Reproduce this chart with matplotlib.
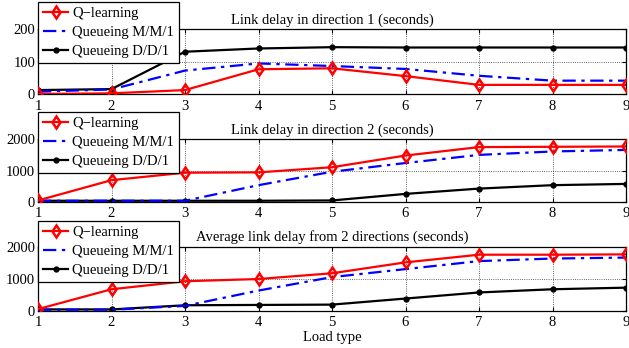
import matplotlib
matplotlib.use("Agg")
import matplotlib.pyplot as plt

plt.rcParams['font.family'] = ['Liberation Serif', 'DejaVu Serif']
plt.rcParams['font.size'] = 10

load = [1, 2, 3, 4, 5, 6, 7, 8, 9]

# Panel 1: Link delay in direction 1 (seconds)
q1 = [1, 3, 13, 77, 80, 56, 29, 29, 29]
mm1_1 = [8, 15, 73, 95, 87, 78, 57, 42, 42]
dd1_1 = [13, 16, 131, 141, 145, 144, 144, 144, 144]

# Panel 2: Link delay in direction 2 (seconds)
q2 = [40, 690, 930, 940, 1105, 1480, 1750, 1760, 1770]
mm1_2 = [30, 30, 30, 530, 960, 1240, 1500, 1610, 1660]
dd1_2 = [30, 30, 30, 30, 40, 250, 420, 530, 570]

# Panel 3: Average link delay from 2 directions (seconds)
q3 = [50, 670, 920, 990, 1170, 1510, 1750, 1750, 1760]
mm1_3 = [30, 30, 150, 630, 1050, 1300, 1550, 1630, 1660]
dd1_3 = [40, 40, 170, 180, 190, 380, 570, 670, 720]

titles = ["Link delay in direction 1 (seconds)",
          "Link delay in direction 2 (seconds)",
          "Average link delay from 2 directions (seconds)"]
labels = ["Q\u2212learning", "Queueing M/M/1", "Queueing D/D/1"]
yticks = [[0, 100, 200], [0, 1000, 2000], [0, 1000, 2000]]
xlabel = "Load type"

W, H = 629, 348
fig = plt.figure(figsize=(W / 100, H / 100), dpi=100)

# axes pixel boxes (top, bottom)
boxes = [(29.3, 94.3), (139.3, 201.7), (246.7, 310.7)]
leg_tops = [2, 112, 221]
left, right = 38, 626

data = [(q1, mm1_1, dd1_1), (q2, mm1_2, dd1_2), (q3, mm1_3, dd1_3)]

for i, ((top, bot), (q, mm, dd)) in enumerate(zip(boxes, data)):
    ax = fig.add_axes([left / W, 1 - bot / H, (right - left) / W, (bot - top) / H])
    ax.plot(load, q, color='red', lw=1.6, marker='d', ms=6, mfc='none',
            mec='red', mew=1.8, label=labels[0], zorder=5)
    ax.plot(load, mm, color='blue', lw=1.6, ls='-.', label=labels[1], zorder=4,
            dashes=(6, 2.5, 1.5, 2.5))
    ax.plot(load, dd, color='black', lw=1.6, marker='o', ms=3.5, label=labels[2],
            zorder=3)
    ax.set_xlim(1, 9)
    ax.set_ylim(yticks[i][0], yticks[i][-1])
    ax.set_xticks(load)
    ax.set_yticks(yticks[i])
    ax.tick_params(direction='in', top=True, right=True, length=3, width=0.8,
                   pad=2, labelsize=10.5)
    ax.tick_params(axis='x', pad=4)
    ax.grid(True, ls=':', color='black', lw=0.6, alpha=0.8)
    for s in ax.spines.values():
        s.set_linewidth(0.9)
    ax.set_title(titles[i], fontsize=10.5, pad=4)
    leg = ax.legend(loc='upper left',
                    bbox_to_anchor=(left / W, 1 - leg_tops[i] / H),
                    bbox_transform=fig.transFigure,
                    fancybox=False, framealpha=1, edgecolor='black',
                    borderaxespad=0, handlelength=1.7, handletextpad=0.3,
                    labelspacing=0.38, borderpad=0.35, fontsize=10.5)
    leg.get_frame().set_linewidth(0.9)
    leg.set_zorder(10)
    if i == 2:
        ax.set_xlabel(xlabel, fontsize=10.5, labelpad=1)

fig.savefig("out.png", dpi=100)
